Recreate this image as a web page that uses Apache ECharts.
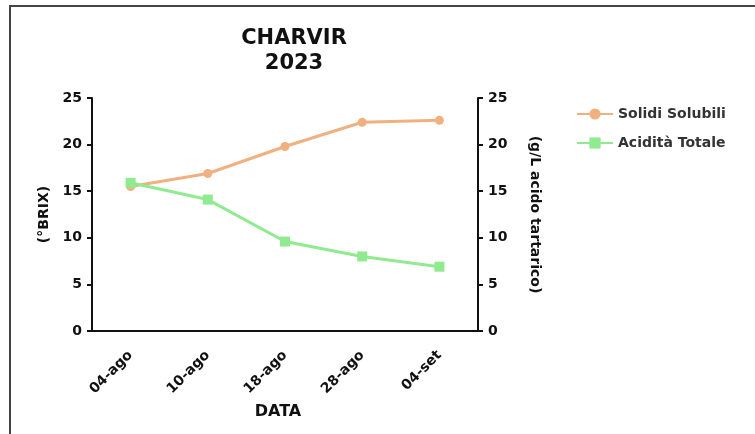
<!DOCTYPE html>
<html>
<head>
<meta charset="utf-8">
<script src="https://cdn.jsdelivr.net/npm/echarts@6/dist/echarts.min.js"></script>
<style>
html,body{margin:0;padding:0;background:#fff;}
#frame{position:absolute;left:9px;top:5px;width:746px;height:429px;border-top:2px solid #444;border-left:2px solid #444;box-sizing:border-box;}
#chart{position:absolute;left:0;top:0;width:755px;height:434px;}
</style>
</head>
<body>
<div id="frame"></div>
<div id="chart"></div>
<script>
const categories = ['04-ago', '10-ago', '18-ago', '28-ago', '04-set'];
const solidiSolubili = [15.5, 16.9, 19.8, 22.4, 22.6];
const aciditaTotale = [15.9, 14.1, 9.6, 8.0, 6.9];
const yTicks = [0, 5, 10, 15, 20, 25];

const chart = echarts.init(document.getElementById('chart'));
const font = '"DejaVu Sans", Verdana, sans-serif';
const axisCommon = {
  type: 'value', min: yTicks[0], max: yTicks[yTicks.length - 1], interval: yTicks[1] - yTicks[0],
  axisLine: { show: true, lineStyle: { color: '#111', width: 2 } },
  axisTick: { show: true, length: 5, lineStyle: { color: '#111', width: 2 } },
  splitLine: { show: false },
  axisLabel: { color: '#111', fontWeight: 'bold', fontSize: 14, fontFamily: font, margin: 10 },
  nameLocation: 'middle',
  nameTextStyle: { color: '#111', fontWeight: 'bold', fontSize: 14, fontFamily: font }
};
chart.setOption({
  animation: false,
  title: {
    text: 'CHARVIR\n2023',
    left: 289, top: 21, textAlign: 'center',
    textStyle: { fontFamily: font, fontWeight: 'bold', fontSize: 21, color: '#111', lineHeight: 25 }
  },
  legend: {
    orient: 'vertical', left: 571, top: 102, itemGap: 15, itemWidth: 36, itemHeight: 14,
    textStyle: { fontFamily: font, fontWeight: 'bold', fontSize: 14, color: '#333', padding: [0,0,0,0] },
    data: ['Solidi Solubili', 'Acidità Totale']
  },
  grid: { left: 92, right: 277, top: 98, bottom: 103 },
  xAxis: {
    type: 'category', data: categories, boundaryGap: true,
    name: 'DATA', nameLocation: 'middle', nameGap: 72,
    nameTextStyle: { color: '#111', fontWeight: 'bold', fontSize: 16, fontFamily: font, padding: [0, 14, 0, 0] },
    axisLine: { lineStyle: { color: '#111', width: 2 } },
    axisTick: { alignWithLabel: true, length: 5, lineStyle: { color: '#111', width: 2 } },
    axisLabel: { rotate: 45, color: '#111', fontWeight: 'bold', fontSize: 14, fontFamily: font, margin: 22 }
  },
  yAxis: [
    Object.assign({}, axisCommon, { position: 'left', name: '(°BRIX)', nameGap: 40, nameRotate: 90 }),
    Object.assign({}, axisCommon, { position: 'right', name: '(g/L acido tartarico)', nameGap: 50, nameRotate: -90 })
  ],
  series: [
    {
      name: 'Solidi Solubili', type: 'line', data: solidiSolubili, yAxisIndex: 0,
      symbol: 'circle', symbolSize: 9,
      lineStyle: { color: '#F0B080', width: 3 },
      itemStyle: { color: '#F0B080' }
    },
    {
      name: 'Acidità Totale', type: 'line', data: aciditaTotale, yAxisIndex: 1,
      symbol: 'rect', symbolSize: 10,
      lineStyle: { color: '#90EA90', width: 3 },
      itemStyle: { color: '#90EA90' }
    }
  ]
});
</script>
</body>
</html>
